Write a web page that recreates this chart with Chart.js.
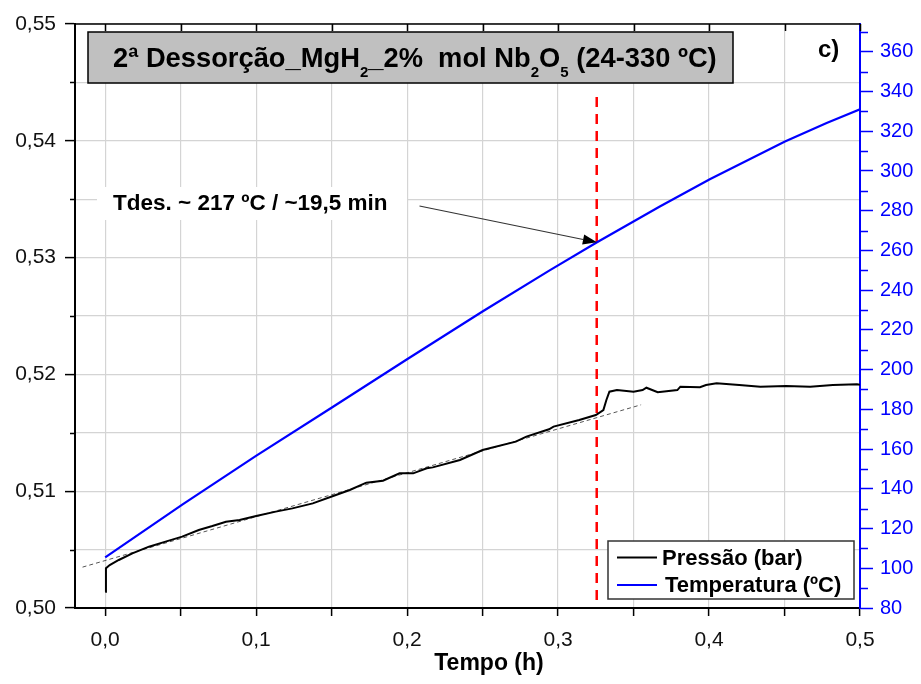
<!DOCTYPE html>
<html>
<head>
<meta charset="utf-8">
<script src="https://cdn.jsdelivr.net/npm/chart.js@4.4.1/dist/chart.umd.min.js"></script>
<style>
  html, body { margin: 0; padding: 0; background: #fff; }
  #wrap { width: 921px; height: 684px; }
</style>
</head>
<body>
<div id="wrap"><canvas id="c" width="921" height="684"></canvas></div>
<script>
// Pressure (bar) vs time (h)
const pressTime = [0, 0.0005, 0.003, 0.009, 0.018, 0.029, 0.040, 0.051, 0.062, 0.071,
    0.080, 0.089, 0.100, 0.113, 0.124, 0.1375, 0.151, 0.162, 0.173, 0.184,
    0.195, 0.204, 0.213, 0.217, 0.235, 0.250, 0.272, 0.279, 0.294, 0.297,
    0.314, 0.325, 0.330, 0.332, 0.334, 0.339, 0.350, 0.356, 0.3585, 0.366,
    0.379, 0.381, 0.394, 0.398, 0.405, 0.420, 0.434, 0.451, 0.467, 0.482, 0.498, 0.5];
const pressValue = [0.5014, 0.5034, 0.50368, 0.50411, 0.50468, 0.50525, 0.50568, 0.50611, 0.50668, 0.50702,
    0.50739, 0.50753, 0.50788, 0.50825, 0.50853, 0.50896, 0.50959, 0.5101, 0.51073, 0.5109,
    0.51153, 0.51153, 0.51196, 0.51204, 0.51267, 0.51353, 0.51424, 0.51467, 0.5153, 0.51553,
    0.5161, 0.51652, 0.51695, 0.51781, 0.51852, 0.51866, 0.51852, 0.51866, 0.51886, 0.51847,
    0.51866, 0.51895, 0.5189, 0.51909, 0.51924, 0.51909, 0.51895, 0.519, 0.51895, 0.51909, 0.51916, 0.51912];

// Temperature (ºC) vs time (h)
const tempTime = [0, 0.0513, 0.0999, 0.1507, 0.2005, 0.2502, 0.2944, 0.3258, 0.3674, 0.4005, 0.4503, 0.4779, 0.5];
const tempValue = [105.5, 132.2, 156.6, 181.2, 205.5, 229.4, 250.0, 264.1, 282.1, 295.8, 314.8, 324.2, 331.1];

// linear fit of the pressure before desorption
const fitTime = [-0.015, 0.355];
const fitValue = [0.5035, 0.5174];

// desorption marker
const tdesTime = 0.3256;
const tdesRange = [0.50068, 0.54435];
const arrowFrom = [0.2082, 0.53442];   // time, pressure axis
const arrowTo = [0.3257, 264.1];       // time, temperature axis

const xTickValues = [0, 0.05, 0.1, 0.15, 0.2, 0.25, 0.3, 0.35, 0.4, 0.45, 0.5];
const yTickValues = [0.50, 0.505, 0.51, 0.515, 0.52, 0.525, 0.53, 0.535, 0.54, 0.545, 0.55];
const y1TickValues = [80, 90, 100, 110, 120, 130, 140, 150, 160, 170, 180, 190, 200, 210, 220, 230,
    240, 250, 260, 270, 280, 290, 300, 310, 320, 330, 340, 350, 360, 370];

const seriesLabels = ['Pressão (bar)', 'Temperatura (ºC)'];
const titleRuns = [['2ª Dessorção_MgH', false], ['2', true], ['_2%  mol Nb', false], ['2', true],
    ['O', false], ['5', true], [' (24-330 ºC)', false]];
const noteText = 'Tdes. ~ 217 ºC / ~19,5 min';

const FONT = '"Liberation Sans", Arial, sans-serif';
const BLUE = '#0000ff';

const isMajorX = v => Math.abs(v * 10 - Math.round(v * 10)) < 1e-6;
const isMajorY = v => Math.abs(v * 100 - Math.round(v * 100)) < 1e-6;
const isMajorY1 = v => v % 20 === 0;
const comma = (v, d) => v.toFixed(d).replace('.', ',');
const pts = (xs, ys) => xs.map((x, i) => ({ x: x, y: ys[i] }));

// title box, note, legend, minor ticks, x title
const decor = {
    id: 'decor',
    afterDraw(chart) {
        const ctx = chart.ctx;
        const a = chart.chartArea;
        const sx = chart.scales.x, sy = chart.scales.y, sy1 = chart.scales.y1;
        ctx.save();

        // top frame + inward ticks
        ctx.strokeStyle = '#000';
        ctx.lineWidth = 1.5;
        ctx.beginPath();
        ctx.moveTo(a.left, a.top);
        ctx.lineTo(a.right, a.top);
        xTickValues.forEach(v => {
            const px = Math.round(sx.getPixelForValue(v)) + 0.5;
            ctx.moveTo(px, a.top);
            ctx.lineTo(px, a.top + 7);
        });
        ctx.stroke();

        // minor ticks on the y axes
        ctx.lineWidth = 1.5;
        ctx.beginPath();
        yTickValues.filter(v => !isMajorY(v)).forEach(v => {
            const py = Math.round(sy.getPixelForValue(v)) + 0.5;
            ctx.moveTo(a.left, py);
            ctx.lineTo(a.left - 5, py);
        });
        ctx.stroke();
        ctx.strokeStyle = BLUE;
        ctx.beginPath();
        y1TickValues.filter(v => !isMajorY1(v)).forEach(v => {
            const py = Math.round(sy1.getPixelForValue(v)) + 0.5;
            ctx.moveTo(a.right, py);
            ctx.lineTo(a.right + 8, py);
        });
        ctx.stroke();

        // title box
        const bx = a.left + 13, by = 32, bw = 645, bh = 51;
        ctx.fillStyle = '#c0c0c0';
        ctx.fillRect(bx, by, bw, bh);
        ctx.strokeStyle = '#000';
        ctx.lineWidth = 1.5;
        ctx.strokeRect(bx, by, bw, bh);
        const base = 100;
        const runWidth = size => titleRuns.reduce((w, r) => {
            ctx.font = 'bold ' + (r[1] ? size * 0.55 : size) + 'px ' + FONT;
            return w + ctx.measureText(r[0]).width;
        }, 0);
        const fs = base * 604 / runWidth(base);
        let tx = bx + 25;
        const baseY = 67;
        ctx.fillStyle = '#000';
        ctx.textBaseline = 'alphabetic';
        ctx.textAlign = 'left';
        titleRuns.forEach(r => {
            ctx.font = 'bold ' + (r[1] ? fs * 0.55 : fs) + 'px ' + FONT;
            ctx.fillText(r[0], tx, r[1] ? baseY + fs * 0.36 : baseY);
            tx += ctx.measureText(r[0]).width;
        });

        // panel letter
        ctx.font = 'bold 24px ' + FONT;
        ctx.fillText('c)', 818, 57);

        // note with white background
        ctx.fillStyle = '#fff';
        ctx.fillRect(97, 187, 310, 33);
        ctx.fillStyle = '#000';
        ctx.font = 'bold 22.5px ' + FONT;
        ctx.fillText(noteText, 113, 209.5);

        // arrow to the temperature curve
        const x0 = sx.getPixelForValue(arrowFrom[0]), y0 = sy.getPixelForValue(arrowFrom[1]);
        const x1 = sx.getPixelForValue(arrowTo[0]), y1 = sy1.getPixelForValue(arrowTo[1]);
        const ang = Math.atan2(y1 - y0, x1 - x0);
        const hl = 14, hw = 5;
        const bxp = x1 - hl * Math.cos(ang), byp = y1 - hl * Math.sin(ang);
        ctx.strokeStyle = '#333';
        ctx.lineWidth = 1.2;
        ctx.beginPath();
        ctx.moveTo(x0, y0);
        ctx.lineTo(bxp, byp);
        ctx.stroke();
        ctx.fillStyle = '#000';
        ctx.beginPath();
        ctx.moveTo(x1, y1);
        ctx.lineTo(bxp + hw * Math.sin(ang), byp - hw * Math.cos(ang));
        ctx.lineTo(bxp - hw * Math.sin(ang), byp + hw * Math.cos(ang));
        ctx.closePath();
        ctx.fill();

        // legend
        const lx = 608, ly = 541, lw = 246, lh = 58;
        ctx.fillStyle = '#fff';
        ctx.fillRect(lx, ly, lw, lh);
        ctx.strokeStyle = '#333';
        ctx.lineWidth = 1.5;
        ctx.strokeRect(lx, ly, lw, lh);
        const legendRows = [
            { label: seriesLabels[0], color: '#000', y: 557.5, tx: 662 },
            { label: seriesLabels[1], color: BLUE, y: 585, tx: 665 }
        ];
        ctx.font = 'bold 22px ' + FONT;
        legendRows.forEach(r => {
            ctx.strokeStyle = r.color;
            ctx.lineWidth = 2;
            ctx.beginPath();
            ctx.moveTo(617, r.y);
            ctx.lineTo(657, r.y);
            ctx.stroke();
            ctx.fillStyle = '#000';
            ctx.fillText(r.label, r.tx, r.y + 7);
        });

        // x axis title
        ctx.font = 'bold 23px ' + FONT;
        ctx.textAlign = 'center';
        ctx.fillText('Tempo (h)', 489, 670);

        ctx.restore();
    }
};

Chart.defaults.font.family = FONT;

new Chart(document.getElementById('c'), {
    type: 'scatter',
    data: {
        datasets: [
            {
                label: seriesLabels[0],
                data: pts(pressTime, pressValue),
                yAxisID: 'y',
                showLine: true,
                borderColor: '#000',
                borderWidth: 2,
                pointRadius: 0,
                tension: 0
            },
            {
                label: 'fit',
                data: pts(fitTime, fitValue),
                yAxisID: 'y',
                showLine: true,
                borderColor: '#555',
                borderWidth: 1,
                borderDash: [4, 3],
                pointRadius: 0
            },
            {
                label: seriesLabels[1],
                data: pts(tempTime, tempValue),
                yAxisID: 'y1',
                showLine: true,
                borderColor: BLUE,
                borderWidth: 2.2,
                pointRadius: 0,
                tension: 0
            },
            {
                label: 'Tdes',
                data: pts([tdesTime, tdesTime], tdesRange),
                yAxisID: 'y',
                showLine: true,
                borderColor: '#ff0000',
                borderWidth: 2.5,
                borderDash: [10, 7],
                pointRadius: 0
            }
        ]
    },
    options: {
        responsive: false,
        animation: false,
        devicePixelRatio: 1,
        layout: { padding: { top: 24, left: 0, right: 0, bottom: 0 } },
        plugins: {
            legend: { display: false },
            tooltip: { enabled: false }
        },
        scales: {
            x: {
                type: 'linear',
                min: -0.02,
                max: 0.5,
                afterBuildTicks: s => { s.ticks = xTickValues.map(v => ({ value: v })); },
                afterFit: s => { s.height = 76; },
                ticks: {
                    autoSkip: false,
                    maxRotation: 0,
                    padding: 12,
                    color: '#111',
                    font: { size: 21 },
                    callback: v => isMajorX(v) ? comma(v, 1) : ''
                },
                grid: { color: '#d4d4d4', lineWidth: 1.2, tickLength: 8, tickColor: '#000', tickWidth: 1.5 },
                border: { color: '#000', width: 2 }
            },
            y: {
                position: 'left',
                min: 0.50,
                max: 0.55,
                afterBuildTicks: s => { s.ticks = yTickValues.map(v => ({ value: v })); },
                afterFit: s => { s.width = 75; },
                ticks: {
                    autoSkip: false,
                    padding: 9,
                    color: '#111',
                    font: { size: 21 },
                    callback: v => isMajorY(v) ? comma(v, 2) : ''
                },
                grid: {
                    color: '#d4d4d4',
                    lineWidth: 1.2,
                    tickLength: 10,
                    tickWidth: 1.5,
                    tickColor: c => (c.tick && isMajorY(c.tick.value)) ? '#000' : 'rgba(0,0,0,0)'
                },
                border: { color: '#000', width: 2 }
            },
            y1: {
                position: 'right',
                min: 80,
                max: 374,
                afterBuildTicks: s => { s.ticks = y1TickValues.map(v => ({ value: v })); },
                afterFit: s => { s.width = 61; },
                ticks: {
                    autoSkip: false,
                    padding: 7,
                    color: BLUE,
                    font: { size: 20 },
                    callback: v => isMajorY1(v) ? String(v) : ''
                },
                grid: {
                    drawOnChartArea: false,
                    tickLength: 13,
                    tickWidth: 1.5,
                    tickColor: c => (c.tick && isMajorY1(c.tick.value)) ? BLUE : 'rgba(0,0,0,0)'
                },
                border: { color: BLUE, width: 2 }
            }
        }
    },
    plugins: [decor]
});
</script>
</body>
</html>
